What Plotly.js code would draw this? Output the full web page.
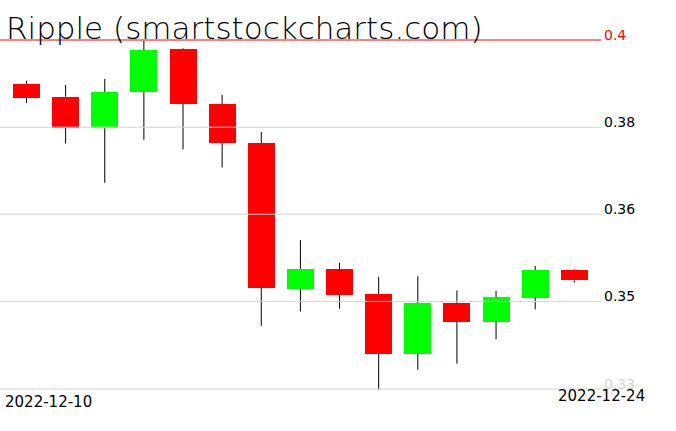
<!DOCTYPE html>
<html>
<head>
<meta charset="utf-8">
<script src="https://cdn.plot.ly/plotly-3.0.1.min.js"></script>
<style>
  html, body { margin: 0; padding: 0; background: #ffffff; }
  #chart { width: 676px; height: 431px; }
</style>
</head>
<body>
<div id="chart"></div>
<script>
// ---- data ----
const dates = ['2022-12-10','2022-12-11','2022-12-12','2022-12-13','2022-12-14','2022-12-15','2022-12-16',
               '2022-12-17','2022-12-18','2022-12-19','2022-12-20','2022-12-21','2022-12-22','2022-12-23','2022-12-24'];
const open  = [0.3905, 0.3878, 0.3812, 0.3888, 0.3980, 0.3863, 0.3781, 0.3492, 0.3530, 0.3482, 0.3370, 0.3465, 0.3430, 0.3475, 0.3528];
const high  = [0.3912, 0.3903, 0.3916, 0.3998, 0.3982, 0.3882, 0.3804, 0.3586, 0.3542, 0.3515, 0.3516, 0.3489, 0.3488, 0.3536, 0.3529];
const low   = [0.3865, 0.3780, 0.3700, 0.3788, 0.3768, 0.3731, 0.3422, 0.3449, 0.3454, 0.3305, 0.3341, 0.3352, 0.3397, 0.3453, 0.3504];
const close = [0.3876, 0.3812, 0.3888, 0.3978, 0.3863, 0.3782, 0.3494, 0.3530, 0.3481, 0.3370, 0.3465, 0.3430, 0.3476, 0.3528, 0.3508];

const gridLevels  = [0.4, 0.3814, 0.3637, 0.3468, 0.3306];
const gridLabels  = ['0.4', '0.38', '0.36', '0.35', '0.33'];
const xTickDates  = ['2022-12-10', '2022-12-24'];
const titleText   = 'Ripple (smartstockcharts.com)';

// ---- styling ----
const UP = '#00ff00', DOWN = '#ff0000';
const GRID = '#d3d3d3';
const FONT = 'DejaVu Sans, sans-serif';
const DAY = 86400000;

// wicks: only the parts outside the body
const wx = [], wy = [];
dates.forEach((d, i) => {
  const top = Math.max(open[i], close[i]), bot = Math.min(open[i], close[i]);
  wx.push(d, d, null, d, d, null);
  wy.push(low[i], bot, null, top, high[i], null);
});

// bodies
const base = open.map((o, i) => Math.min(o, close[i]));
const size = open.map((o, i) => Math.abs(close[i] - o));
const colors = open.map((o, i) => close[i] >= o ? UP : DOWN);

const traces = [
  { type: 'bar', x: dates, y: size, base: base, width: 0.69 * DAY,
    marker: { color: colors, line: { width: 0 } }, hoverinfo: 'skip', showlegend: false },
  { type: 'scatter', mode: 'lines', x: wx, y: wy, line: { color: '#000000', width: 1 },
    hoverinfo: 'skip', showlegend: false, connectgaps: false }
];

const labelColor = (t, i) => {
  if (i === 0) return '<span style="color:#ff0000">' + t + '</span>';
  if (i === gridLabels.length - 1) return '<span style="color:#d3d3d3">' + t + '</span>';
  return t;
};

const shapes = gridLevels.map((v, i) => ({
  type: 'line', xref: 'paper', x0: 0, x1: 1, yref: 'y', y0: v, y1: v,
  line: { color: i === 0 ? '#ff0000' : GRID, width: 1 }, layer: 'above'
}));

const layout = {
  width: 676, height: 431,
  margin: { l: 0, r: 75, t: 0, b: 31, pad: 0 },
  paper_bgcolor: '#ffffff', plot_bgcolor: '#ffffff',
  showlegend: false, hovermode: false, bargap: 0,
  title: { text: titleText, font: { family: FONT, size: 31, color: '#000000', weight: 200 },
           xref: 'container', x: 6 / 676, xanchor: 'left',
           yref: 'container', y: 1 - 28 / 431, yanchor: 'middle' },
  xaxis: { type: 'date', range: ['2022-12-09 07:45', '2022-12-24 16:22'],
           showgrid: false, zeroline: false, showline: false, showticklabels: false, ticks: '' },
  yaxis: { type: 'log', side: 'right', range: [-0.483296, -0.388456],
           tickmode: 'array', tickvals: gridLevels, ticktext: gridLabels.map(labelColor),
           showgrid: false, zeroline: false, showline: false, ticks: '',
           ticklabelshift: -5, ticklabelstandoff: 2,
           tickfont: { family: FONT, size: 14, color: '#000000' } },
  shapes: shapes,
  annotations: [
    { text: xTickDates[0], xref: 'paper', x: 0, xanchor: 'left', xshift: 3,
      yref: 'paper', y: 0, yanchor: 'middle', yshift: -1.5, showarrow: false,
      font: { family: FONT, size: 15, color: '#000000' } },
    { text: xTickDates[1], xref: 'paper', x: 1, xanchor: 'right', xshift: 46,
      yref: 'paper', y: 0, yanchor: 'middle', yshift: 4.5, showarrow: false,
      font: { family: FONT, size: 15, color: '#000000' } }
  ]
};

Plotly.newPlot('chart', traces, layout, { staticPlot: true, displayModeBar: false });
</script>
</body>
</html>
